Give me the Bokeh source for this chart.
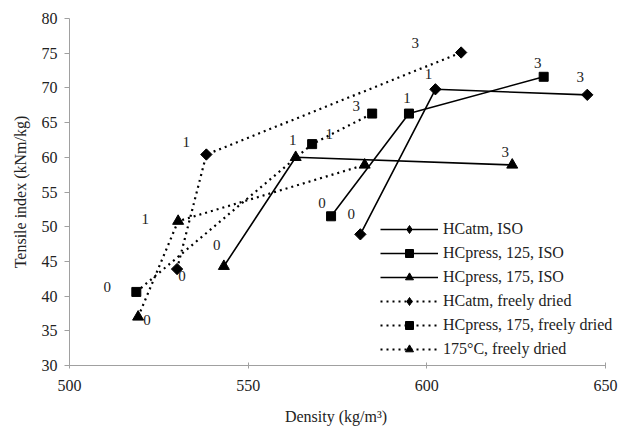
import numpy as np
from bokeh.plotting import figure
from bokeh.models import ColumnDataSource, Legend, LegendItem
from bokeh.core.properties import value
from bokeh.embed import file_html
from bokeh.resources import INLINE

# ---- data -------------------------------------------------------------
series_names = [
    "HCatm, ISO",
    "HCpress, 125, ISO",
    "HCpress, 175, ISO",
    "HCatm, freely dried",
    "HCpress, 175, freely dried",
    "175\u00b0C, freely dried",
]
density = [
    [581.4, 602.4, 644.9],
    [573.2, 595.0, 632.7],
    [543.2, 563.3, 623.9],
    [530.1, 538.3, 609.6],
    [518.7, 567.9, 584.7],
    [519.2, 530.4, 582.6],
]
tensile = [
    [48.9, 69.8, 69.0],
    [51.5, 66.3, 71.6],
    [44.3, 60.0, 58.9],
    [43.9, 60.4, 75.1],
    [40.6, 61.9, 66.3],
    [37.0, 50.8, 58.9],
]
point_labels = [
    ["0", "1", "3"],
    ["0", "1", "3"],
    ["0", "1", "3"],
    ["0", "1", "3"],
    ["0", "1", "3"],
    ["0", "1", ""],
]
x_ticks = [500, 550, 600, 650]
y_ticks = [30, 35, 40, 45, 50, 55, 60, 65, 70, 75, 80]

# ---- styling (not data) ------------------------------------------------
markers = ["square", "square", "triangle", "square", "square", "triangle"]
legend_markers = ["diamond", "square", "triangle", "diamond", "square", "triangle"]
legend_sizes = [13, 9, 11, 13, 9, 11]
angles = [np.pi / 4, 0, 0, np.pi / 4, 0, 0]
sizes = [8, 9, 11, 8, 9, 11]
dashes = ["solid", "solid", "solid", "2 4", "2 4", "2 4"]
widths = [1.6, 1.6, 1.6, 2.2, 2.2, 2.2]
label_dx = [
    [-9, -7, -7],
    [-9, -2, -6],
    [-7, -3, -7],
    [5, -20, -46],
    [-29, 17, -16],
    [9, -33, 0],
]
label_dy = [
    [-20, -15, -18],
    [-13, -16, -14],
    [-21, -17, -13],
    [7, -13, -10],
    [-5, -10, -8],
    [3, -2, 0],
]

FONT = "Liberation Serif"
TXT = "#222222"
AX = "#a0a0a0"

X_MIN, X_MAX = 500, 650
PX_PER_UNIT = 536 / 150.0
FRAME_W = 553
x_end = X_MIN + FRAME_W / PX_PER_UNIT

p = figure(
    frame_width=FRAME_W, frame_height=347,
    x_range=(X_MIN, x_end), y_range=(30, 80),
    min_border_left=69, min_border_right=7, min_border_top=18, min_border_bottom=64,
    output_backend="svg", toolbar_location=None,
)
p.outline_line_color = None
p.xgrid.visible = False
p.ygrid.visible = False

for ax in (p.xaxis[0], p.yaxis[0]):
    ax.axis_line_color = AX
    ax.major_tick_line_color = AX
    ax.minor_tick_line_color = None
    ax.major_label_text_font = FONT
    ax.major_label_text_font_size = "16px"
    ax.major_label_text_color = TXT
    ax.axis_label_text_font = FONT
    ax.axis_label_text_font_size = "16px"
    ax.axis_label_text_font_style = "normal"
    ax.axis_label_text_color = TXT

p.xaxis.bounds = (X_MIN, X_MAX)
p.xaxis.ticker = x_ticks
p.yaxis.ticker = y_ticks
p.xaxis.major_tick_in = 3
p.xaxis.major_tick_out = 3
p.yaxis.major_tick_in = 0
p.yaxis.major_tick_out = 5
p.xaxis.major_label_standoff = 11
p.yaxis.major_label_standoff = 7
# trailing no-break spaces shift the centred label left to sit under the 500-650 span
p.xaxis.axis_label = "Density (kg/m\u00b3)" + "\u00a0" * 5
p.yaxis.axis_label = "Tensile index (kNm/kg)"
p.xaxis.axis_label_standoff = 14
p.yaxis.axis_label_standoff = 10

items = []
for i, name in enumerate(series_names):
    src = ColumnDataSource(dict(x=density[i], y=tensile[i]))
    r_line = p.line("x", "y", source=src, line_color="black",
                    line_width=widths[i], line_dash=dashes[i])
    p.scatter("x", "y", source=src, marker=markers[i], size=sizes[i],
              angle=angles[i], fill_color="black", line_color="black")
    # legend-only marker, placed far outside the visible range
    r_leg = p.scatter(x=[X_MIN - 1000], y=[-1000], marker=legend_markers[i],
                      size=legend_sizes[i], fill_color="black", line_color="black")
    items.append(LegendItem(label=name, renderers=[r_line, r_leg]))

    lab_src = ColumnDataSource(dict(
        x=density[i], y=tensile[i], t=point_labels[i],
        dx=label_dx[i], dy=label_dy[i],
    ))
    p.text("x", "y", text="t", source=lab_src, x_offset="dx", y_offset="dy",
           text_font=value(FONT), text_font_size="15px", text_color=TXT,
           text_align="center", text_baseline="middle")

legend = Legend(items=items, location=(311, 6))
legend.glyph_width = 58
legend.glyph_height = 20
legend.label_height = 20
legend.spacing = 4
legend.padding = 0
legend.margin = 0
legend.label_standoff = 5
legend.border_line_color = None
legend.background_fill_alpha = 0
legend.label_text_font = FONT
legend.label_text_font_size = "16px"
legend.label_text_color = TXT
p.add_layout(legend, "center")

open("out.html", "w").write(file_html(p, INLINE))
